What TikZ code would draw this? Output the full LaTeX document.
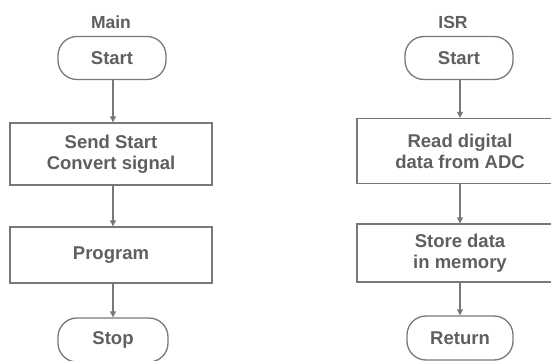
\documentclass[tikz,border=0pt]{standalone}
\usepackage{fontspec}
\setmainfont{Liberation Sans}
\usetikzlibrary{arrows.meta}
\definecolor{ink}{RGB}{95,95,95}
\definecolor{edge}{RGB}{120,120,120}
\tikzset{
  every node/.style={font=\bfseries\fontsize{18.5}{21}\selectfont, text=ink},
  term/.style={draw=edge, line width=1.3pt, rounded corners=19pt,
    minimum width=108pt, minimum height=43pt, inner sep=0pt},
  proc/.style={draw=edge, line width=1.3pt, align=center, inner sep=0pt},
  flow/.style={draw=edge, line width=1.3pt, -{Triangle[length=6pt,width=6pt]}},
  title/.style={font=\bfseries\fontsize{17.5}{20}\selectfont}
}
\begin{document}
\begin{tikzpicture}[x=1pt,y=-1pt]
  \useasboundingbox (0,0) rectangle (551,361);
  \clip (0,0) rectangle (551,361);
  \fill[white] (0,0) rectangle (551,361);

  % main program
  \node[title] (mainlbl) at (111,22) {Main};
  \node[term] (mstart) at (112,58) {Start};
  \node[proc, minimum width=202pt, minimum height=62pt] (send) at (111,154) {Send Start\\Convert signal};
  \node[proc, minimum width=202pt, minimum height=56pt] (prog) at (111,255) {Program};
  \node[term, minimum width=110pt, minimum height=44pt] (stop) at (113,340) {Stop};

  \draw[flow] (mstart.south -| 113,0) -- (send.north -| 113,0);
  \draw[flow] (send.south -| 113,0) -- (prog.north -| 113,0);
  \draw[flow] (prog.south -| 113,0) -- (stop.north -| 113,0);

  % interrupt service routine
  \node[title] (isrlbl) at (453,22) {ISR};
  \node[term] (istart) at (459,58) {Start};
  \node[proc, minimum width=206pt, minimum height=65pt] (read) at (460,151) {Read digital\\data from ADC};
  \node[proc, minimum width=206pt, minimum height=58pt] (store) at (460,253) {Store data\\in memory};
  \node[term, minimum width=106pt, minimum height=44pt] (ret) at (460,338) {Return};

  \draw[flow] (istart.south -| 460,0) -- (read.north -| 460,0);
  \draw[flow] (read.south -| 460,0) -- (store.north -| 460,0);
  \draw[flow] (store.south -| 460,0) -- (ret.north -| 460,0);
\end{tikzpicture}
\end{document}
